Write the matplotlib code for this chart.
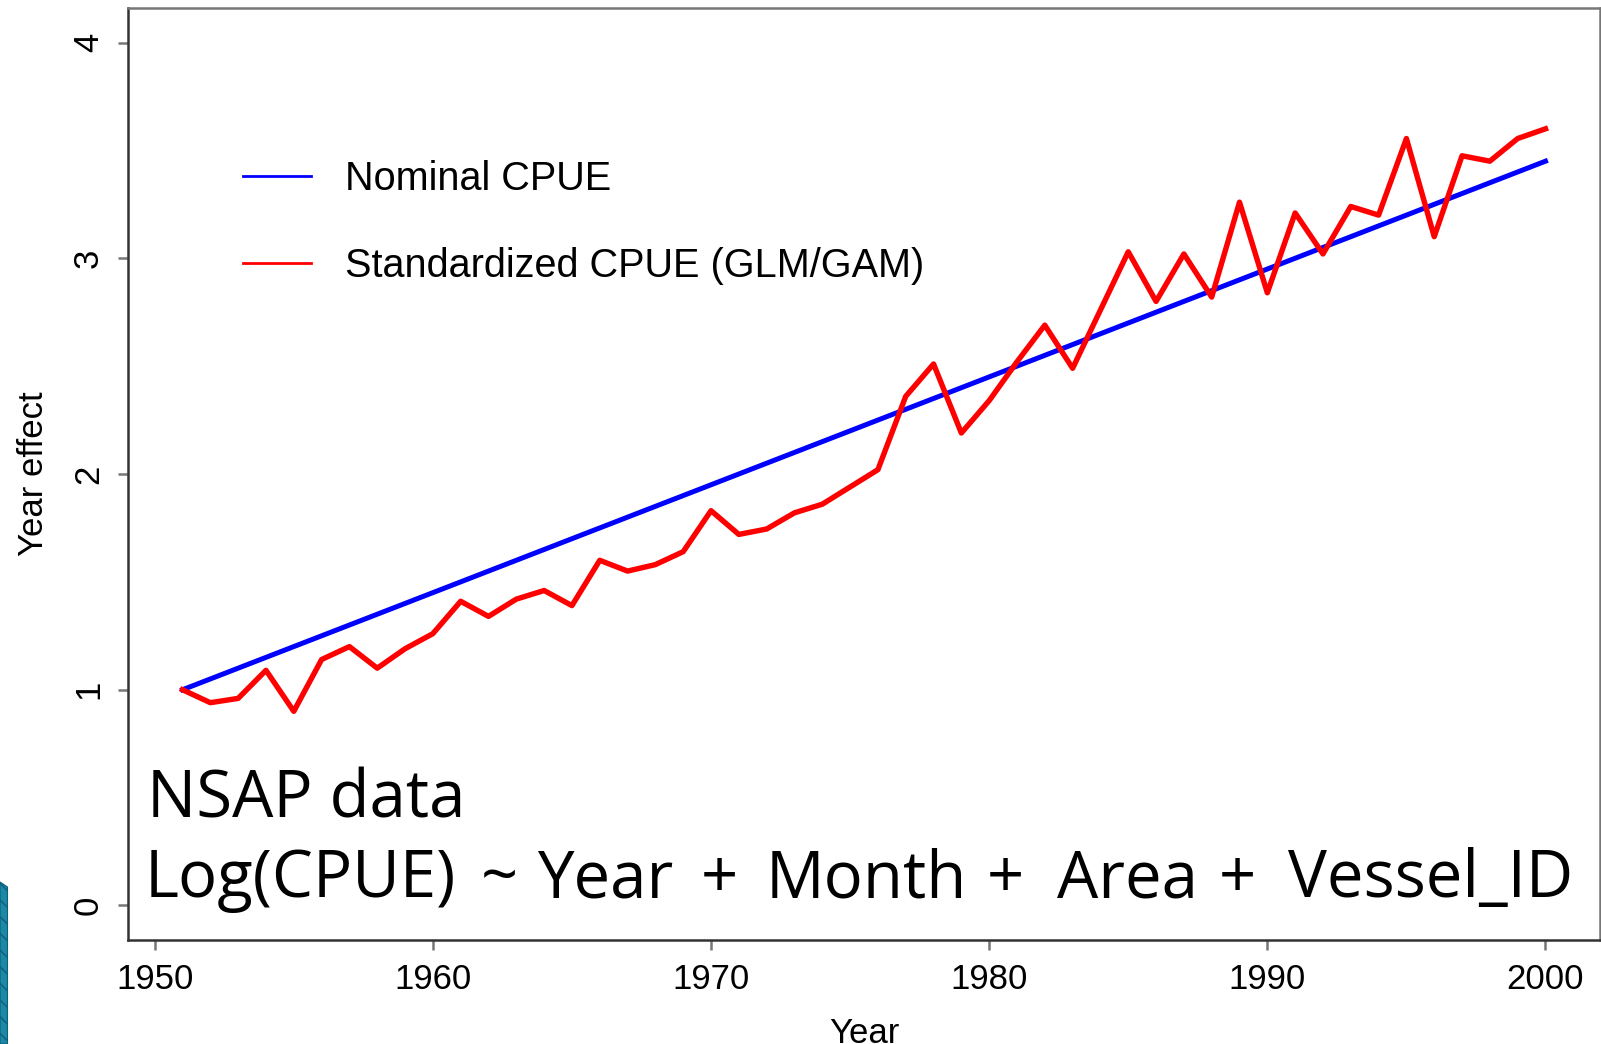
import matplotlib
matplotlib.use("Agg")
import matplotlib.pyplot as plt
from matplotlib.patches import Polygon

# year effects, nominal vs standardized
years = list(range(1951, 2001))
standardized = [1.00, 0.94, 0.96, 1.09, 0.90, 1.14, 1.20, 1.10, 1.19, 1.26,
                1.41, 1.34, 1.42, 1.46, 1.39, 1.60, 1.55, 1.58, 1.64, 1.83,
                1.72, 1.745, 1.82, 1.86, 1.94, 2.02, 2.36, 2.51, 2.19, 2.34,
                2.52, 2.69, 2.49, 2.76, 3.03, 2.80, 3.02, 2.82, 3.26, 2.84,
                3.21, 3.02, 3.24, 3.20, 3.555, 3.10, 3.475, 3.45, 3.555, 3.60]
nominal_years = [1951, 2000]
nominal = [1.00, 3.45]

xticks = [1950, 1960, 1970, 1980, 1990, 2000]
yticks = [0, 1, 2, 3, 4]

# model formula, word by word with its pixel offset from the left
formula = ["Log(CPUE)", "~", "Year", "+", "Month", "+", "Area", "+", "Vessel_ID"]
formula_x = [145, 481, 537, 701, 766, 987, 1057, 1219, 1288]

W, H = 1601, 1044
fig = plt.figure(figsize=(W / 100, H / 100), dpi=100)
ax = fig.add_axes([128 / W, 1 - 940 / H, (1600 - 128) / W, (940 - 8) / H])

ax.plot(nominal_years, nominal, color="#0000ff", lw=3.6, label="Nominal CPUE")
ax.plot(years, standardized, color="#ff0000", lw=3.9,
        label="Standardized CPUE (GLM/GAM)")

ax.set_xlim(1949.04, 2001.96)
ax.set_ylim(-0.16, 4.16)
ax.set_xticks(xticks)
ax.set_yticks(yticks)

tickfont = {"family": "Liberation Sans", "size": 25}
ax.set_xticklabels([str(t) for t in xticks], fontdict=tickfont)
ax.set_yticklabels([str(t) for t in yticks], fontdict=tickfont,
                   rotation=90, va="center")
ax.tick_params(direction="out", length=7.5, width=1.8, color="#777777")
ax.tick_params(axis="x", pad=9)
ax.tick_params(axis="y", pad=9)

for side in ["left", "bottom"]:
    ax.spines[side].set_color("#333333")
    ax.spines[side].set_linewidth(1.8)
for side in ["top", "right"]:
    ax.spines[side].set_color("#777777")
    ax.spines[side].set_linewidth(1.8)

ax.set_xlabel("Year", fontdict=tickfont)
ax.set_ylabel("Year effect", fontdict=tickfont)
ax.xaxis.set_label_coords(0.5, -0.083)
ax.yaxis.set_label_coords(-0.053, 0.5)

leg = ax.legend(loc="upper left", bbox_to_anchor=(0.078, 0.837),
                frameon=False, borderpad=0, borderaxespad=0,
                handlelength=1.72, handletextpad=0.86, labelspacing=1.24,
                prop={"family": "Liberation Sans", "size": 28.5})
for ln in leg.get_lines():
    ln.set_linewidth(2)

bigfont = {"family": "Open Sans", "size": 47}
fig.text(147 / W, 1 - 818 / H, "NSAP data", va="baseline", ha="left",
         fontdict=bigfont)
for word, px in zip(formula, formula_x):
    fig.text(px / W, 1 - 897 / H, word, va="baseline", ha="left",
             fontdict=bigfont)

# slide decoration peeking in at the lower left
corner = [(0, 882), (7.5, 887), (7.5, H), (0, H)]
fig.patches.append(Polygon([(x / W, 1 - y / H) for x, y in corner],
                           closed=True, transform=fig.transFigure,
                           facecolor="#1a88a6", edgecolor="#0f5f78", lw=0.8,
                           hatch="\\\\"))

fig.savefig("out.png", dpi=100)
